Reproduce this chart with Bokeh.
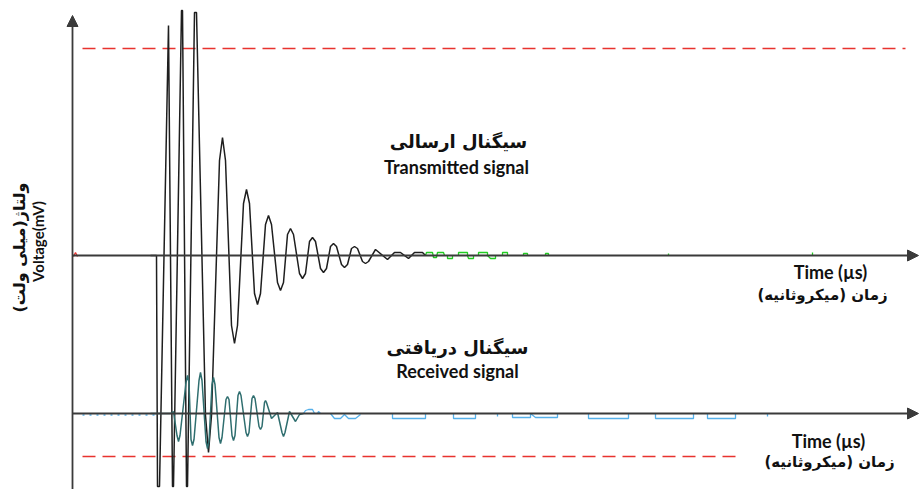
import math
from bokeh.plotting import figure
from bokeh.models import Range1d, Label, Arrow, NormalHead
from bokeh.embed import file_html
from bokeh.resources import INLINE

NaN = float("nan")

# ---- data (time in arbitrary µs units from the vertical axis, voltage in mV-like units) ----
tx_time = [78, 84, 85, 87, 96, 100, 101, 109, 110, 114, 115, 122, 124,
           133, 136, 139, 147, 150, 153, 159, 162, 165, 171, 174, 177, 182, 185, 188,
           193, 196, 199, 205, 208, 211, 215, 218, 221, 227, 230, 233, 237, 240, 243,
           248, 251, 254, 258, 261, 264, 269, 272, 275, 279, 282, 285, 290, 293, 296,
           303, 315, 322, 328, 336, 342, 350, 353]
tx_volt = [0, 0, -231, -231, 230, -231, -231, 245, 245, -231, -231, 243, 243,
           -160, -197, -160, 95, 118, 95, -70, -88, -70, 52, 66, 52, -38, -49, -38,
           31, 40, 31, -27, -35, -27, 21, 27, 21, -18, -23, -18, 14, 18, 14,
           -13, -17, -13, 9, 12, 9, -9, -12, -9, 7, 9, 7, -6, -8, -6,
           6, -4, 3, 3, -3, 3, 3, 0]

rx_time = [78, 98, 101, 104.5, 106, 107.5, 113.5, 115, 116.5, 118.5, 120, 121.5, 126.5, 128, 129.5,
           133.5, 135, 136.5, 139.5, 141, 142.5, 146.5, 148, 149.5, 153.5, 155, 156.5, 159.5, 161, 162.5,
           165.5, 167, 168.5, 173.5, 175, 176.5, 179.5, 181, 182.5, 186.5, 188, 189.5, 192, 193, 194,
           199, 205, 209.5, 211, 212.5, 217, 223, 227, 231]
rx_volt = [0, 0, 2, -22, -28, -22, 31, 38, 31, -26, -32, -26, 33, 41, 33,
           -28, -35, -28, 29, 36, 29, -24, -30, -24, 14, 17, 14, -22, -27, -22,
           18, 22, 18, -19, -23, -19, 15, 18, 15, -13, -16, -13, 11, 13, 11,
           -5, 1, -19, -23, -19, 2, -8, -1, 0]

# noise traces after the signals
tx_noise_time = [353, 354, 360, 361, 364, 365, 371, 372, NaN, 375, 375, 380, 380, NaN,
                 386, 386, 395, 395, 396, 401, 401, NaN, 406, 406, 415, 415, 418, 423, 423, NaN,
                 430, 430, 435, 435, NaN, 451, 451, 455, 455, NaN, 473, 473, 476, 476, NaN,
                 596, 596, NaN, 740, 740]
tx_noise_volt = [0, 3, 3, -2, -2, 3, 3, 0, NaN, 0, -3, -3, 0, NaN,
                 0, 3, 3, 0, -3, -3, 0, NaN, 0, 3, 3, 0, -3, -3, 0, NaN,
                 0, 3, 3, 0, NaN, 0, 2, 2, 0, NaN, 0, 2, 2, 0, NaN,
                 0, 2, NaN, 0, 3]

rx_noise_time = [231, 233, 236, 240, 242, NaN, 245, 246, 248, NaN, 258, 262, 268, 272, 276, 283, 288, NaN,
                 320, 320, 353, 353, NaN, 381, 381, 403, 403, NaN, 425, 425, NaN,
                 440, 440, 458, 458, 463, 485, 485, NaN, 516, 516, 556, 556, NaN,
                 583, 583, 621, 621, NaN, 635, 635, 663, 663, NaN, 695, 695]
rx_noise_volt = [0, 3, 4, 4, 0, NaN, 0, 2, 0, NaN, 0, -5, -5, -1, -5, -5, -1, NaN,
                 0, -5, -5, 0, NaN, 0, -5, -5, 0, NaN, 0, -3, NaN,
                 0, -4, -4, 0, -4, -4, 0, NaN, 0, -5, -5, 0, NaN,
                 0, -5, -5, 0, NaN, 0, -5, -5, 0, NaN, 0, -3]

pre_noise_time = [10, 83]
pre_noise_volt = [-1.5, -1.5]

marker_time = [1, 3, 5]
marker_volt = [-1, 3, -1]

threshold_high = 207
threshold_low = -43      # relative to received baseline
rx_offset = -158
thr_high_span = [10, 833]
thr_low_span = [10, 663]

# ---- figure ----
p = figure(width=920, height=489, x_range=Range1d(-72, 848), y_range=Range1d(-234, 255),
           output_backend="svg", toolbar_location=None, min_border=0,
           x_axis_location=None, y_axis_location=None)
p.grid.visible = False
p.outline_line_color = None
p.background_fill_color = "white"

# threshold dashed lines
p.line(thr_high_span, [threshold_high, threshold_high], line_color="#e8332f", line_width=1.5, line_dash="13 7")
p.line(thr_low_span, [rx_offset + threshold_low] * 2, line_color="#e8332f", line_width=1.5, line_dash="13 7")

# noise
p.line(tx_noise_time, tx_noise_volt, line_color="#22cc22", line_width=1.3)
p.line(rx_noise_time, [v + rx_offset for v in rx_noise_volt], line_color="#55b0ea", line_width=1.3)
p.line(pre_noise_time, [v + rx_offset for v in pre_noise_volt], line_color="#55b0ea", line_width=1.5, line_dash="2 5")
p.line(marker_time, marker_volt, line_color="#e8332f", line_width=1.3)

# axes lines with arrows
axis_col = "#3a3a3a"
p.add_layout(Arrow(end=NormalHead(size=11, fill_color=axis_col, line_color=axis_col),
                   x_start=0, y_start=-234, x_end=0, y_end=240, line_color=axis_col, line_width=1.8))
p.add_layout(Arrow(end=NormalHead(size=11, fill_color=axis_col, line_color=axis_col),
                   x_start=0, y_start=0, x_end=846, y_end=0, line_color=axis_col, line_width=1.8))
p.add_layout(Arrow(end=NormalHead(size=11, fill_color=axis_col, line_color=axis_col),
                   x_start=0, y_start=rx_offset, x_end=846, y_end=rx_offset, line_color=axis_col, line_width=1.8))

# signals
p.line(tx_time, tx_volt, line_color="#1e1e1e", line_width=1.5)
p.line(rx_time, [v + rx_offset for v in rx_volt], line_color="#2f6e6f", line_width=1.5)

# ---- texts ----
fa_font = "DejaVu Sans"
en_font = "Lato"

def lab(x, y, text, font, size, angle=0):
    p.add_layout(Label(x=x, y=y, text=text, text_font=font, text_font_size=size,
                       text_font_style="bold", text_align="center", text_baseline="middle",
                       text_color="#111111", angle=angle))

lab(386, 114, "سیگنال ارسالی", fa_font, "18px")
lab(384, 89, "Transmitted signal", en_font, "18px")
lab(385, -92, "سیگنال دریافتی", fa_font, "18px")
lab(385, -115, "Received signal", en_font, "18px")
lab(758, -16, "Time (µs)", en_font, "18px")
lab(750, -39, "زمان (میکروثانیه)", fa_font, "15px")
lab(756, -185, "Time (µs)", en_font, "18px")
lab(757, -206, "زمان (میکروثانیه)", fa_font, "15px")
lab(-53, 8, "ولتاژ(میلی ولت)", fa_font, "16px", angle=math.pi / 2)
lab(-35, 14, "Voltage(mV)", en_font, "15px", angle=math.pi / 2)

open("out.html", "w").write(file_html(p, INLINE))
